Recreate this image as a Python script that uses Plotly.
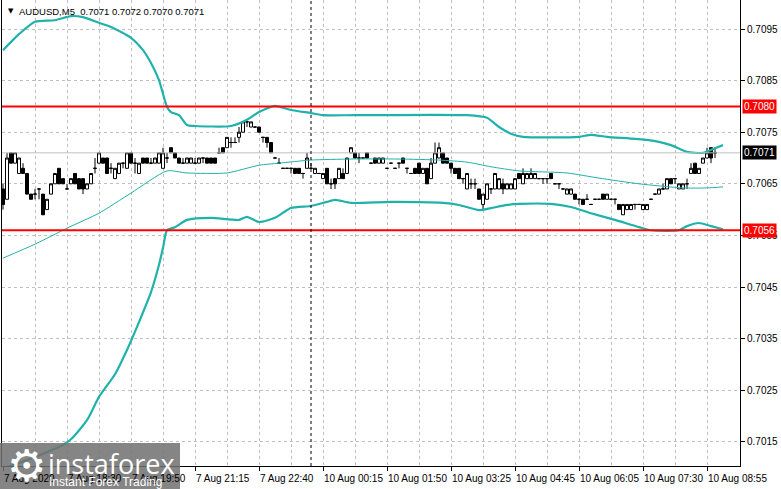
import plotly.graph_objects as go

# AUDUSD M5 chart in the MetaTrader look: candles, Bollinger bands,
# two red levels, the bid line and the Friday/Monday separator.

# -----------------------------------------------------------------
# 1. Data (x = bar number from the left edge)
# -----------------------------------------------------------------
bar_open = [
    0.7064, 0.7062, 0.7071, 0.7069, 0.7067, 0.7068, 0.7067, 0.7063, 0.7063, 0.7064,
    0.7063, 0.7060, 0.7063, 0.7065, 0.7068, 0.7066, 0.7064, 0.7065, 0.7067, 0.7066,
    0.7066, 0.7064, 0.7065, 0.7068, 0.7069, 0.7070, 0.7070, 0.7068, 0.7066, 0.7067,
    0.7069, 0.7068, 0.7071, 0.7069, 0.7067, 0.7070, 0.7070, 0.7069, 0.7069, 0.7069,
    0.7068, 0.7070, 0.7072, 0.7071, 0.7070, 0.7069, 0.7069, 0.7069, 0.7069, 0.7069,
    0.7070, 0.7070, 0.7070, 0.7070, 0.7071, 0.7072, 0.7072, 0.7073, 0.7073, 0.7074,
    0.7075, 0.7077, 0.7076, 0.7076, 0.7076, 0.7074, 0.7074, 0.7073, 0.7070, 0.7069,
    0.7068, 0.7068, 0.7068, 0.7068, 0.7068, 0.7067, 0.7068, 0.7068, 0.7067, 0.7067,
    0.7066, 0.7068, 0.7065, 0.7066, 0.7066, 0.7067, 0.7067, 0.7071, 0.7071, 0.7070,
    0.7070, 0.7071, 0.7069, 0.7070, 0.7069, 0.7069, 0.7068, 0.7069, 0.7068, 0.7069,
    0.7070, 0.7068, 0.7067, 0.7068, 0.7069, 0.7067, 0.7068, 0.7066, 0.7069, 0.7070,
    0.7071, 0.7070, 0.7069, 0.7068, 0.7068, 0.7066, 0.7064, 0.7065, 0.7065, 0.7064,
    0.7061, 0.7062, 0.7064, 0.7064, 0.7064, 0.7065, 0.7064, 0.7064, 0.7064, 0.7067,
    0.7065, 0.7066, 0.7066, 0.7066, 0.7066, 0.7066, 0.7066, 0.7067, 0.7065, 0.7065,
    0.7064, 0.7063, 0.7063, 0.7063, 0.7062, 0.7062, 0.7062, 0.7061, 0.7062, 0.7062,
    0.7063, 0.7062, 0.7062, 0.7062, 0.7061, 0.7059, 0.7060, 0.7060, 0.7061, 0.7061,
    0.7060, 0.7060, 0.7062, 0.7063, 0.7063, 0.7064, 0.7064, 0.7066, 0.7066, 0.7064,
    0.7064, 0.7065, 0.7067, 0.7069, 0.7067, 0.7069, 0.7070, 0.7072, 0.7071,
]
bar_high = [
    0.7065, 0.7071, 0.7071, 0.7071, 0.7070, 0.7069, 0.7067, 0.7063, 0.7064, 0.7064,
    0.7063, 0.7062, 0.7065, 0.7067, 0.7068, 0.7066, 0.7065, 0.7066, 0.7067, 0.7066,
    0.7066, 0.7065, 0.7067, 0.7070, 0.7071, 0.7070, 0.7070, 0.7069, 0.7068, 0.7069,
    0.7069, 0.7071, 0.7071, 0.7070, 0.7069, 0.7070, 0.7070, 0.7070, 0.7070, 0.7071,
    0.7072, 0.7071, 0.7072, 0.7071, 0.7070, 0.7070, 0.7070, 0.7070, 0.7070, 0.7070,
    0.7070, 0.7070, 0.7070, 0.7070, 0.7072, 0.7072, 0.7074, 0.7074, 0.7074, 0.7076,
    0.7077, 0.7077, 0.7077, 0.7076, 0.7076, 0.7074, 0.7074, 0.7073, 0.7070, 0.7070,
    0.7068, 0.7068, 0.7068, 0.7068, 0.7068, 0.7067, 0.7071, 0.7069, 0.7068, 0.7067,
    0.7067, 0.7068, 0.7066, 0.7066, 0.7068, 0.7068, 0.7070, 0.7072, 0.7071, 0.7071,
    0.7070, 0.7071, 0.7069, 0.7070, 0.7070, 0.7070, 0.7068, 0.7069, 0.7068, 0.7069,
    0.7070, 0.7068, 0.7067, 0.7068, 0.7069, 0.7068, 0.7068, 0.7070, 0.7073, 0.7073,
    0.7071, 0.7070, 0.7069, 0.7068, 0.7068, 0.7066, 0.7067, 0.7066, 0.7066, 0.7064,
    0.7063, 0.7065, 0.7064, 0.7067, 0.7066, 0.7066, 0.7065, 0.7065, 0.7066, 0.7067,
    0.7068, 0.7067, 0.7068, 0.7067, 0.7066, 0.7066, 0.7066, 0.7067, 0.7065, 0.7065,
    0.7064, 0.7064, 0.7064, 0.7063, 0.7062, 0.7062, 0.7063, 0.7061, 0.7062, 0.7062,
    0.7063, 0.7063, 0.7062, 0.7062, 0.7061, 0.7061, 0.7061, 0.7061, 0.7061, 0.7061,
    0.7061, 0.7061, 0.7062, 0.7063, 0.7064, 0.7065, 0.7066, 0.7066, 0.7066, 0.7065,
    0.7065, 0.7066, 0.7069, 0.7069, 0.7068, 0.7070, 0.7072, 0.7072, 0.7072,
]
bar_low = [
    0.7060, 0.7062, 0.7069, 0.7069, 0.7067, 0.7067, 0.7063, 0.7062, 0.7062, 0.7062,
    0.7059, 0.7060, 0.7063, 0.7065, 0.7065, 0.7065, 0.7064, 0.7065, 0.7065, 0.7064,
    0.7063, 0.7064, 0.7065, 0.7067, 0.7069, 0.7069, 0.7067, 0.7067, 0.7066, 0.7067,
    0.7068, 0.7068, 0.7069, 0.7067, 0.7067, 0.7069, 0.7069, 0.7069, 0.7069, 0.7069,
    0.7068, 0.7069, 0.7071, 0.7070, 0.7069, 0.7069, 0.7069, 0.7069, 0.7069, 0.7069,
    0.7069, 0.7069, 0.7069, 0.7069, 0.7071, 0.7071, 0.7072, 0.7072, 0.7073, 0.7073,
    0.7075, 0.7076, 0.7076, 0.7076, 0.7075, 0.7073, 0.7072, 0.7071, 0.7070, 0.7069,
    0.7068, 0.7068, 0.7067, 0.7067, 0.7067, 0.7066, 0.7068, 0.7068, 0.7067, 0.7067,
    0.7066, 0.7065, 0.7064, 0.7064, 0.7066, 0.7066, 0.7067, 0.7071, 0.7070, 0.7069,
    0.7070, 0.7070, 0.7069, 0.7069, 0.7069, 0.7069, 0.7068, 0.7069, 0.7068, 0.7068,
    0.7069, 0.7067, 0.7067, 0.7067, 0.7067, 0.7067, 0.7065, 0.7066, 0.7069, 0.7070,
    0.7069, 0.7069, 0.7067, 0.7067, 0.7066, 0.7065, 0.7064, 0.7064, 0.7064, 0.7062,
    0.7060, 0.7062, 0.7063, 0.7064, 0.7064, 0.7063, 0.7064, 0.7064, 0.7064, 0.7066,
    0.7065, 0.7066, 0.7066, 0.7066, 0.7066, 0.7065, 0.7065, 0.7066, 0.7065, 0.7064,
    0.7064, 0.7063, 0.7063, 0.7062, 0.7061, 0.7061, 0.7062, 0.7061, 0.7062, 0.7062,
    0.7062, 0.7062, 0.7062, 0.7061, 0.7060, 0.7059, 0.7060, 0.7060, 0.7060, 0.7061,
    0.7060, 0.7060, 0.7062, 0.7063, 0.7063, 0.7064, 0.7064, 0.7065, 0.7065, 0.7064,
    0.7064, 0.7064, 0.7067, 0.7067, 0.7067, 0.7069, 0.7070, 0.7069, 0.7070,
]
bar_close = [
    0.7061, 0.7070, 0.7069, 0.7071, 0.7070, 0.7067, 0.7063, 0.7062, 0.7063, 0.7064,
    0.7059, 0.7062, 0.7065, 0.7067, 0.7065, 0.7065, 0.7064, 0.7066, 0.7065, 0.7064,
    0.7064, 0.7065, 0.7067, 0.7068, 0.7071, 0.7069, 0.7067, 0.7068, 0.7068, 0.7069,
    0.7069, 0.7071, 0.7069, 0.7069, 0.7069, 0.7069, 0.7069, 0.7069, 0.7070, 0.7071,
    0.7071, 0.7070, 0.7071, 0.7070, 0.7069, 0.7069, 0.7070, 0.7070, 0.7069, 0.7070,
    0.7070, 0.7069, 0.7069, 0.7069, 0.7071, 0.7071, 0.7074, 0.7073, 0.7073, 0.7075,
    0.7077, 0.7077, 0.7077, 0.7076, 0.7075, 0.7074, 0.7073, 0.7071, 0.7070, 0.7069,
    0.7068, 0.7068, 0.7068, 0.7067, 0.7067, 0.7067, 0.7070, 0.7068, 0.7068, 0.7067,
    0.7067, 0.7065, 0.7065, 0.7065, 0.7068, 0.7066, 0.7070, 0.7072, 0.7070, 0.7070,
    0.7070, 0.7070, 0.7069, 0.7069, 0.7070, 0.7070, 0.7068, 0.7069, 0.7068, 0.7069,
    0.7069, 0.7068, 0.7067, 0.7067, 0.7067, 0.7068, 0.7065, 0.7069, 0.7071, 0.7072,
    0.7069, 0.7069, 0.7068, 0.7067, 0.7066, 0.7066, 0.7067, 0.7065, 0.7065, 0.7062,
    0.7063, 0.7065, 0.7064, 0.7067, 0.7066, 0.7064, 0.7065, 0.7065, 0.7066, 0.7066,
    0.7067, 0.7067, 0.7067, 0.7067, 0.7066, 0.7066, 0.7066, 0.7066, 0.7065, 0.7065,
    0.7064, 0.7064, 0.7064, 0.7062, 0.7062, 0.7061, 0.7062, 0.7061, 0.7062, 0.7062,
    0.7062, 0.7063, 0.7062, 0.7062, 0.7060, 0.7061, 0.7061, 0.7061, 0.7061, 0.7061,
    0.7061, 0.7061, 0.7062, 0.7063, 0.7064, 0.7064, 0.7066, 0.7065, 0.7066, 0.7065,
    0.7065, 0.7065, 0.7068, 0.7067, 0.7068, 0.7070, 0.7071, 0.7070, 0.7071,
]
bar_idx = list(range(len(bar_close)))

# Bollinger bands, sampled where they bend
upper_idx = [0, 4, 8, 13, 17, 20, 24, 27, 32, 35, 37, 39, 41, 42, 44, 46, 48, 57, 61, 64,
             68, 72, 77, 80, 88, 116, 121, 124, 127, 130, 144, 147, 151, 161, 167, 171, 175, 178, 180]
upper_val = [0.70909, 0.70940, 0.70964, 0.70967, 0.70975, 0.70973, 0.70962, 0.70954, 0.70933, 0.70909,
             0.70884, 0.70851, 0.70799, 0.70789, 0.70783, 0.70764, 0.70762, 0.70762, 0.70774, 0.70789,
             0.70801, 0.70793, 0.70787, 0.70783, 0.70783, 0.70783, 0.70778, 0.70760, 0.70747, 0.70741,
             0.70741, 0.70745, 0.70741, 0.70735, 0.70725, 0.70712, 0.70710, 0.70719, 0.70725]
mid_idx = [0, 8, 16, 24, 32, 41, 46, 56, 64, 69, 77, 87, 99, 109, 116, 122, 129, 141, 149, 159,
           170, 176, 180]
mid_val = [0.70506, 0.70533, 0.70564, 0.70593, 0.70632, 0.70675, 0.70671, 0.70671, 0.70686, 0.70690,
           0.70696, 0.70698, 0.70698, 0.70696, 0.70692, 0.70683, 0.70675, 0.70671, 0.70661, 0.70650,
           0.70642, 0.70642, 0.70644]
lower_idx = [0, 4, 9, 14, 17, 21, 24, 28, 31, 34, 37, 39, 40, 41, 43, 46, 52, 59, 61, 64,
             68, 72, 77, 81, 83, 87, 97, 110, 114, 119, 122, 126, 129, 137, 142, 147, 153, 159, 162, 169,
             171, 174, 177, 180]
lower_val = [0.70099, 0.70109, 0.70124, 0.70140, 0.70155, 0.70192, 0.70237, 0.70281, 0.70328, 0.70382,
             0.70440, 0.70493, 0.70526, 0.70560, 0.70566, 0.70580, 0.70584, 0.70580, 0.70586, 0.70576,
             0.70584, 0.70603, 0.70607, 0.70615, 0.70619, 0.70613, 0.70615, 0.70613, 0.70609, 0.70599,
             0.70603, 0.70609, 0.70611, 0.70611, 0.70605, 0.70593, 0.70580, 0.70566, 0.70560, 0.70560,
             0.70568, 0.70574, 0.70568, 0.70562]

red_levels = [0.7080, 0.7056]
separator_idx = 77          # first bar of 10 Aug

price_ticks = [0.7015, 0.7025, 0.7035, 0.7045, 0.7055, 0.7065, 0.7075, 0.7085, 0.7095]
time_tick_idx = [0, 16, 32, 48, 64, 80, 96, 112, 128, 144, 160, 176]
time_tick_text = ["7 Aug 2020", "7 Aug 18:30", "7 Aug 19:50", "7 Aug 21:15", "7 Aug 22:40",
                  "10 Aug 00:15", "10 Aug 01:50", "10 Aug 03:25", "10 Aug 04:45",
                  "10 Aug 06:05", "10 Aug 07:30", "10 Aug 08:55"]

# -----------------------------------------------------------------
# 2. Page geometry (pixels of the 781x489 window)
# -----------------------------------------------------------------
W, H = 781, 489
PL, PR, PT, PB = 2, 740, 0, 466
FONT = "Liberation Sans"
BAND = "#20B2AA"
GRID = "#C0C0C0"


def px(x):
    return (x - PL) / (PR - PL)


def py(y):
    return (PB - y) / (PB - PT)


fig = go.Figure()

fig.add_trace(go.Candlestick(
    x=bar_idx, open=bar_open, high=bar_high, low=bar_low, close=bar_close,
    increasing=dict(line=dict(color="black", width=1), fillcolor="white"),
    decreasing=dict(line=dict(color="black", width=1), fillcolor="black"),
    whiskerwidth=0, showlegend=False, hoverinfo="skip",
))

for xs, ys, w in [(upper_idx, upper_val, 2.2), (mid_idx, mid_val, 1), (lower_idx, lower_val, 2.2)]:
    fig.add_trace(go.Scatter(
        x=xs, y=ys, mode="lines", line=dict(color=BAND, width=w, shape="spline", smoothing=0.6),
        showlegend=False, hoverinfo="skip",
    ))

# -----------------------------------------------------------------
# 3. Level lines and separator
# -----------------------------------------------------------------
shapes = []
last_close = bar_close[-1]
shapes.append(dict(type="line", xref="paper", x0=0, x1=1, yref="y", y0=last_close, y1=last_close,
                   line=dict(color="#C0C0C0", width=1)))
for lvl in red_levels:
    shapes.append(dict(type="line", xref="paper", x0=0, x1=1, yref="y", y0=lvl, y1=lvl,
                       line=dict(color="#FF0000", width=2)))
shapes.append(dict(type="line", xref="x", x0=separator_idx, x1=separator_idx, yref="paper", y0=0, y1=1,
                   line=dict(color="black", width=1, dash="3px,3px")))
# instaforex watermark box
shapes.append(dict(type="rect", xref="paper", yref="paper", x0=px(0), x1=px(180), y0=py(489), y1=py(443),
                   fillcolor="rgba(112,112,112,0.85)", line=dict(width=0), layer="above"))

annotations = []
for i, t in zip(time_tick_idx, time_tick_text):
    annotations.append(dict(x=i, xref="x", y=0, yref="paper", text=t, showarrow=False,
                            xanchor="left", yanchor="top", yshift=-5, xshift=-1,
                            font=dict(family=FONT, size=10, color="black")))

for lvl in red_levels:
    annotations.append(dict(x=1, xref="paper", y=lvl, yref="y", text=f"{lvl:.4f}", showarrow=False,
                            xanchor="left", yanchor="middle", xshift=2, bgcolor="#FF0000", borderpad=1,
                            font=dict(family=FONT, size=10, color="white")))
annotations.append(dict(x=1, xref="paper", y=last_close, yref="y", text=f"{last_close:.4f}", showarrow=False,
                        xanchor="left", yanchor="middle", xshift=2, bgcolor="black", borderpad=1,
                        font=dict(family=FONT, size=10, color="white")))

# chart header
annotations.append(dict(x=px(6), y=py(11), xref="paper", yref="paper", text="▼", showarrow=False,
                        xanchor="left", yanchor="middle", font=dict(family="DejaVu Sans", size=7, color="black")))
header = "AUDUSD,M5  " + " ".join(f"{v:.4f}" for v in
                                  (bar_open[-1], bar_high[-1], bar_low[-1], bar_close[-1]))
annotations.append(dict(x=px(17), y=py(11), xref="paper", yref="paper", text=header, showarrow=False,
                        xanchor="left", yanchor="middle", font=dict(family=FONT, size=9.5, color="black")))

# watermark text
annotations.append(dict(x=px(26), y=py(465), xref="paper", yref="paper", text="⚙", showarrow=False,
                        xanchor="center", yanchor="middle", font=dict(family="DejaVu Sans", size=44, color="white")))
annotations.append(dict(x=px(46), y=py(463), xref="paper", yref="paper", text="instaforex", showarrow=False,
                        xanchor="left", yanchor="middle", font=dict(family="Open Sans", size=27, color="white")))
annotations.append(dict(x=px(47), y=py(482), xref="paper", yref="paper", text="Instant Forex Trading",
                        showarrow=False, xanchor="left", yanchor="middle",
                        font=dict(family=FONT, size=12, color="white")))

# -----------------------------------------------------------------
# 4. Layout
# -----------------------------------------------------------------
fig.update_layout(
    width=W, height=H,
    margin=dict(l=PL, r=W - PR, t=PT, b=H - PB),
    paper_bgcolor="white", plot_bgcolor="white",
    shapes=shapes, annotations=annotations,
    boxgap=0.25, boxgroupgap=0,
    xaxis=dict(
        range=[-0.25, 184.25], rangeslider=dict(visible=False),
        tickmode="linear", tick0=0, dtick=16, showticklabels=False,
        ticks="outside", ticklen=4, tickcolor="black",
        showgrid=True, gridcolor=GRID, griddash="3px,3px", gridwidth=1,
        minor=dict(tick0=8, dtick=16, showgrid=True, gridcolor=GRID, griddash="3px,3px", gridwidth=1),
        showline=True, linecolor="black", linewidth=1, zeroline=False,
    ),
    yaxis=dict(
        side="right", range=[0.701031, 0.710062],
        tickvals=price_ticks, ticktext=[f"{v:.4f}" for v in price_ticks],
        ticks="outside", ticklen=4, tickcolor="black",
        tickfont=dict(family=FONT, size=10, color="black"),
        showgrid=True, gridcolor=GRID, griddash="3px,3px", gridwidth=1,
        showline=True, mirror=True, linecolor="black", linewidth=1, zeroline=False,
    ),
)

# the page body has a default 8px margin; drop it so the chart sits at the corner
fig.write_html("out.html", config={"displayModeBar": False},
               post_script="document.body.style.margin='0';")
